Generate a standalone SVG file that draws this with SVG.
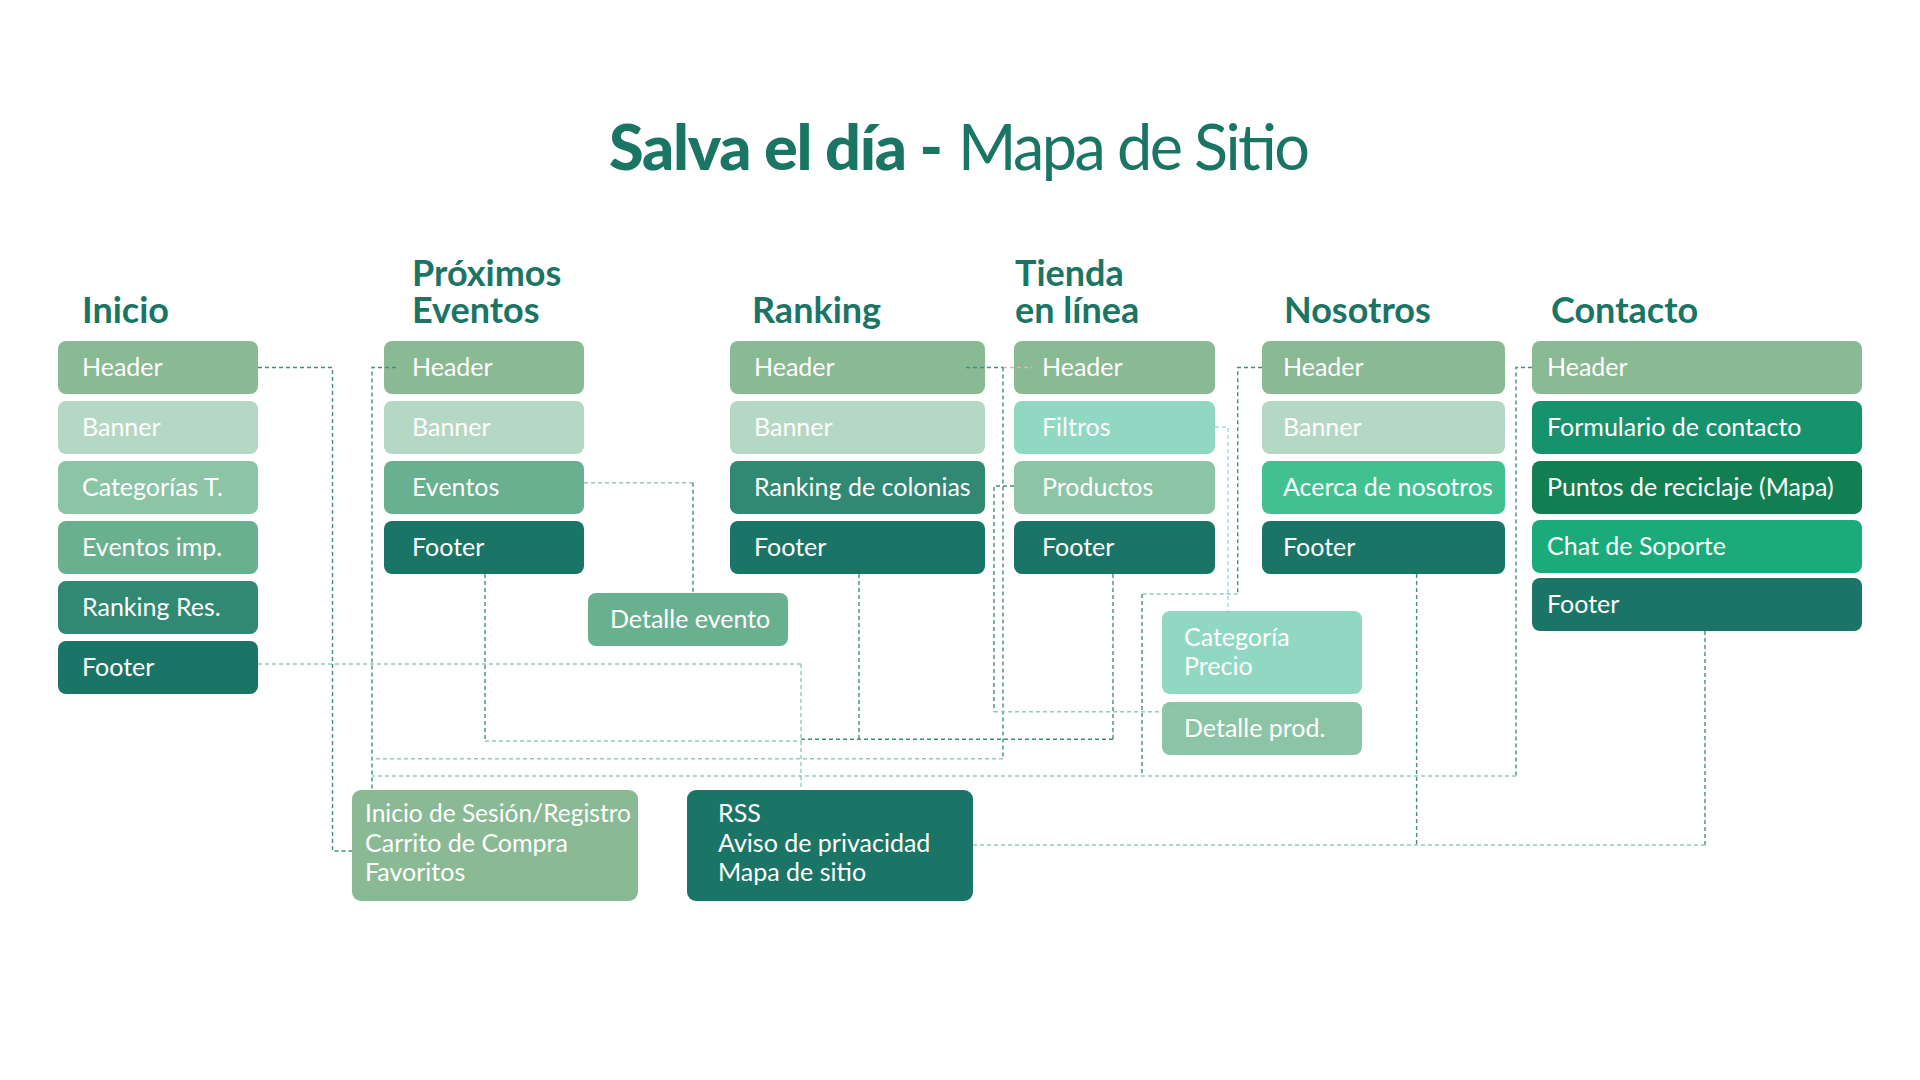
<svg xmlns="http://www.w3.org/2000/svg" width="1920" height="1080" viewBox="0 0 1920 1080">
<style>
  .t{font-family:Lato,"Noto Sans",sans-serif;fill:#1b7565;font-size:63px}
  .title-b{font-weight:900}
  .title-r{font-weight:400}
  .h{font-family:Lato,"Noto Sans",sans-serif;font-weight:700;font-size:36px;fill:#1b7565}
  .lbl{font-family:Lato,"Noto Sans",sans-serif;font-size:25px;fill:#ffffff}
  .c{fill:none;stroke-width:1.4;stroke-dasharray:4 3}
  .dk{stroke:#3f9079}
  .lt{stroke:#93cbb7}
  .bl{stroke:#a8d4ea}
  .pk{stroke:#e9b3ad}
  .hdr{fill:#8aba94}
  .ban{fill:#b4d8c3}
  .cat{fill:#8cc5a6}
  .evi{fill:#69b08f}
  .rnk{fill:#318873}
  .ftr{fill:#1b7566}
  .fil{fill:#90d8c2}
  .ace{fill:#41c18f}
  .frm{fill:#16936c}
  .pun{fill:#127f52}
  .cht{fill:#1bab7a}
</style>
<rect width="1920" height="1080" fill="#ffffff"/>

<g id="title">
  <text class="t title-b" x="609" y="170" textLength="334">Salva el día -</text>
  <text class="t title-r" x="958" y="170" textLength="352">Mapa de Sitio</text>
</g>

<g id="headings">
  <text class="h" x="82" y="323">Inicio</text>
  <text class="h" x="412" y="286">Próximos</text>
  <text class="h" x="412" y="323">Eventos</text>
  <text class="h" x="752" y="323">Ranking</text>
  <text class="h" x="1015" y="286">Tienda</text>
  <text class="h" x="1015" y="323">en línea</text>
  <text class="h" x="1284" y="323">Nosotros</text>
  <text class="h" x="1551" y="323">Contacto</text>
</g>

<g id="inicio">
  <g id="inicio-header"><rect class="hdr" x="58" y="341" width="200" height="53" rx="8"/><text class="lbl" x="82" y="376">Header</text></g>
  <g id="inicio-banner"><rect class="ban" x="58" y="401" width="200" height="53" rx="8"/><text class="lbl" x="82" y="436">Banner</text></g>
  <g id="inicio-categorias"><rect class="cat" x="58" y="461" width="200" height="53" rx="8"/><text class="lbl" x="82" y="496">Categorías T.</text></g>
  <g id="inicio-eventos"><rect class="evi" x="58" y="521" width="200" height="53" rx="8"/><text class="lbl" x="82" y="556">Eventos imp.</text></g>
  <g id="inicio-ranking"><rect class="rnk" x="58" y="581" width="200" height="53" rx="8"/><text class="lbl" x="82" y="616">Ranking Res.</text></g>
  <g id="inicio-footer"><rect class="ftr" x="58" y="641" width="200" height="53" rx="8"/><text class="lbl" x="82" y="676">Footer</text></g>
</g>

<g id="proximos">
  <g id="prox-header"><rect class="hdr" x="384" y="341" width="200" height="53" rx="8"/><text class="lbl" x="412" y="376">Header</text></g>
  <g id="prox-banner"><rect class="ban" x="384" y="401" width="200" height="53" rx="8"/><text class="lbl" x="412" y="436">Banner</text></g>
  <g id="prox-eventos"><rect class="evi" x="384" y="461" width="200" height="53" rx="8"/><text class="lbl" x="412" y="496">Eventos</text></g>
  <g id="prox-footer"><rect class="ftr" x="384" y="521" width="200" height="53" rx="8"/><text class="lbl" x="412" y="556">Footer</text></g>
  <g id="detalle-evento"><rect class="evi" x="588" y="593" width="200" height="53" rx="8"/><text class="lbl" x="610" y="628">Detalle evento</text></g>
</g>

<g id="ranking">
  <g id="rank-header"><rect class="hdr" x="730" y="341" width="255" height="53" rx="8"/><text class="lbl" x="754" y="376">Header</text></g>
  <g id="rank-banner"><rect class="ban" x="730" y="401" width="255" height="53" rx="8"/><text class="lbl" x="754" y="436">Banner</text></g>
  <g id="rank-colonias"><rect class="rnk" x="730" y="461" width="255" height="53" rx="8"/><text class="lbl" x="754" y="496">Ranking de colonias</text></g>
  <g id="rank-footer"><rect class="ftr" x="730" y="521" width="255" height="53" rx="8"/><text class="lbl" x="754" y="556">Footer</text></g>
</g>

<g id="tienda">
  <g id="tienda-header"><rect class="hdr" x="1014" y="341" width="201" height="53" rx="8"/><text class="lbl" x="1042" y="376">Header</text></g>
  <g id="tienda-filtros"><rect class="fil" x="1014" y="401" width="201" height="53" rx="8"/><text class="lbl" x="1042" y="436">Filtros</text></g>
  <g id="tienda-productos"><rect class="cat" x="1014" y="461" width="201" height="53" rx="8"/><text class="lbl" x="1042" y="496">Productos</text></g>
  <g id="tienda-footer"><rect class="ftr" x="1014" y="521" width="201" height="53" rx="8"/><text class="lbl" x="1042" y="556">Footer</text></g>
  <g id="categoria-precio"><rect class="fil" x="1162" y="611" width="200" height="83" rx="8"/><text class="lbl" x="1184" y="646">Categoría</text><text class="lbl" x="1184" y="675">Precio</text></g>
  <g id="detalle-prod"><rect class="cat" x="1162" y="702" width="200" height="53" rx="8"/><text class="lbl" x="1184" y="737">Detalle prod.</text></g>
</g>

<g id="nosotros">
  <g id="nos-header"><rect class="hdr" x="1262" y="341" width="243" height="53" rx="8"/><text class="lbl" x="1283" y="376">Header</text></g>
  <g id="nos-banner"><rect class="ban" x="1262" y="401" width="243" height="53" rx="8"/><text class="lbl" x="1283" y="436">Banner</text></g>
  <g id="nos-acerca"><rect class="ace" x="1262" y="461" width="243" height="53" rx="8"/><text class="lbl" x="1283" y="496">Acerca de nosotros</text></g>
  <g id="nos-footer"><rect class="ftr" x="1262" y="521" width="243" height="53" rx="8"/><text class="lbl" x="1283" y="556">Footer</text></g>
</g>

<g id="contacto">
  <g id="con-header"><rect class="hdr" x="1532" y="341" width="330" height="53" rx="8"/><text class="lbl" x="1547" y="376">Header</text></g>
  <g id="con-formulario"><rect class="frm" x="1532" y="401" width="330" height="53" rx="8"/><text class="lbl" x="1547" y="436">Formulario de contacto</text></g>
  <g id="con-puntos"><rect class="pun" x="1532" y="461" width="330" height="53" rx="8"/><text class="lbl" x="1547" y="496">Puntos de reciclaje (Mapa)</text></g>
  <g id="con-chat"><rect class="cht" x="1532" y="520" width="330" height="53" rx="8"/><text class="lbl" x="1547" y="555">Chat de Soporte</text></g>
  <g id="con-footer"><rect class="ftr" x="1532" y="578" width="330" height="53" rx="8"/><text class="lbl" x="1547" y="613">Footer</text></g>
</g>

<g id="comunes">
  <g id="sesion"><rect class="hdr" x="352" y="790" width="286" height="111" rx="9"/><text class="lbl" x="365" y="822" textLength="266" lengthAdjust="spacingAndGlyphs">Inicio de Sesión/Registro</text><text class="lbl" x="365" y="852">Carrito de Compra</text><text class="lbl" x="365" y="881">Favoritos</text></g>
  <g id="rss"><rect class="ftr" x="687" y="790" width="286" height="111" rx="9"/><text class="lbl" x="718" y="822">RSS</text><text class="lbl" x="718" y="852">Aviso de privacidad</text><text class="lbl" x="718" y="881">Mapa de sitio</text></g>
</g>

<g id="connectors">
  <path class="c dk" d="M258,367.5 H332.5 V851 H352"/>
  <path class="c dk" d="M396,367.5 H372 V790"/>
  <path class="c dk" d="M966,367.5 H1003"/>
  <path class="c pk" d="M1003,367.5 H1032"/>
  <path class="c dk" d="M1003,367.5 V758.7"/>
  <path class="c lt" d="M1003,758.7 H372"/>
  <path class="c dk" d="M1532,367.5 H1516 V776"/>
  <path class="c lt" d="M1516,776 H372"/>
  <path class="c dk" d="M1262,367.5 H1237.7 V594"/>
  <path class="c lt" d="M1237.7,594 H1142"/>
  <path class="c dk" d="M1142,594 V776"/>
  <path class="c lt" d="M584,482.7 H693"/>
  <path class="c dk" d="M693,482.7 V593"/>
  <path class="c bl" d="M1215,427 H1228 V611"/>
  <path class="c dk" d="M1014,486 H994 V711.7"/>
  <path class="c lt" d="M994,711.7 H1174"/>
  <path class="c lt" d="M258,664 H801"/>
  <path class="c lt" d="M801,664 V790"/>
  <path class="c dk" d="M485,574 V741"/>
  <path class="c lt" d="M485,741 H801"/>
  <path class="c dk" d="M859,574 V739.3"/>
  <path class="c dk" d="M1113,574 V739.3"/>
  <path class="c dk" d="M801,739.3 H1113"/>
  <path class="c dk" d="M1416.6,574 V845"/>
  <path class="c dk" d="M1705,631 V845"/>
  <path class="c lt" d="M1705,845 H973"/>
</g>
</svg>
